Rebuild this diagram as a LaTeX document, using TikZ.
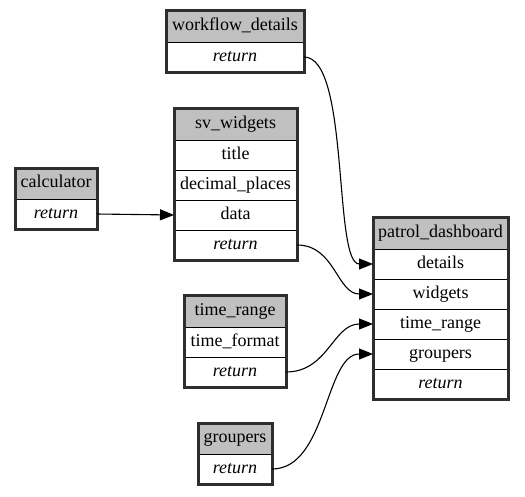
\documentclass[tikz,border=0pt]{standalone}
\usepackage{fontspec}
\setmainfont{LiberationSerif}[Extension=.ttf, UprightFont=*-Regular, ItalicFont=*-Italic, BoldFont=*-Bold, BoldItalicFont=*-BoldItalic]
\usetikzlibrary{positioning,arrows.meta,fit}
\definecolor{headgray}{HTML}{C0C0C0}
\definecolor{rimgray}{HTML}{2E2E2E}
\tikzset{
  cell/.style={draw, line width=0.9pt, outer sep=0pt, inner sep=0pt, fill=white, minimum height=30pt, text height=12.5pt, text depth=4pt, font=\rmfamily\fontsize{18}{20}\selectfont},
  headcell/.style={cell, fill=headgray, minimum height=32pt},
  retcell/.style={cell, font=\rmfamily\fontsize{18}{20}\selectfont\itshape},
  tablebox/.style={draw=rimgray, line width=3pt, inner sep=0pt, outer sep=0pt},
  linkarrow/.style={-{Triangle[length=14pt, width=11pt]}, line width=1.1pt}
}
\begin{document}
\begin{tikzpicture}[x=1pt, y=-1pt]
  \useasboundingbox (0,0) rectangle (525,496);
  \node[headcell, minimum width=138pt, anchor=north] (wf-head) at (235,10) {workflow\_details};
  \node[retcell, minimum width=138pt, below=0pt of wf-head] (wf-ret) {return};
  \node[tablebox, fit=(wf-head)(wf-ret)] (wf) {};

  \node[headcell, minimum width=123pt, anchor=north] (sv-head) at (235.5,108) {sv\_widgets};
  \node[cell, minimum width=123pt, below=0pt of sv-head] (sv-title) {title};
  \node[cell, minimum width=123pt, below=0pt of sv-title] (sv-places) {decimal\_places};
  \node[cell, minimum width=123pt, below=0pt of sv-places] (sv-data) {data};
  \node[retcell, minimum width=123pt, below=0pt of sv-data] (sv-ret) {return};
  \node[tablebox, fit=(sv-head)(sv-ret)] (sv) {};

  \node[headcell, minimum width=82pt, minimum height=31pt, anchor=north] (calc-head) at (56,168) {calculator};
  \node[retcell, minimum width=82pt, below=0pt of calc-head] (calc-ret) {return};
  \node[tablebox, fit=(calc-head)(calc-ret)] (calc) {};

  \node[headcell, minimum width=135pt, anchor=north] (pd-head) at (440.5,217) {patrol\_dashboard};
  \node[cell, minimum width=135pt, below=0pt of pd-head] (pd-details) {details};
  \node[cell, minimum width=135pt, below=0pt of pd-details] (pd-widgets) {widgets};
  \node[cell, minimum width=135pt, below=0pt of pd-widgets] (pd-range) {time\_range};
  \node[cell, minimum width=135pt, below=0pt of pd-range] (pd-groupers) {groupers};
  \node[retcell, minimum width=135pt, below=0pt of pd-groupers] (pd-ret) {return};
  \node[tablebox, fit=(pd-head)(pd-ret)] (pd) {};

  \node[headcell, minimum width=102pt, anchor=north] (tr-head) at (235,295) {time\_range};
  \node[cell, minimum width=102pt, below=0pt of tr-head] (tr-format) {time\_format};
  \node[retcell, minimum width=102pt, below=0pt of tr-format] (tr-ret) {return};
  \node[tablebox, fit=(tr-head)(tr-ret)] (tr) {};

  \node[headcell, minimum width=74pt, minimum height=31pt, anchor=north] (gr-head) at (235,423) {groupers};
  \node[retcell, minimum width=74pt, below=0pt of gr-head] (gr-ret) {return};
  \node[tablebox, fit=(gr-head)(gr-ret)] (gr) {};

  \draw[linkarrow] (calc-ret.east) -- (sv-data.west);
  \draw[linkarrow] (wf-ret.east) .. controls +(46,0) and +(-40,0) .. (pd-details.west);
  \draw[linkarrow] (sv-ret.east) .. controls +(38,0) and +(-36,0) .. (pd-widgets.west);
  \draw[linkarrow] (tr-ret.east) .. controls +(42,0) and +(-40,0) .. (pd-range.west);
  \draw[linkarrow] (gr-ret.east) .. controls +(55,0) and +(-48,0) .. (pd-groupers.west);
\end{tikzpicture}
\end{document}
